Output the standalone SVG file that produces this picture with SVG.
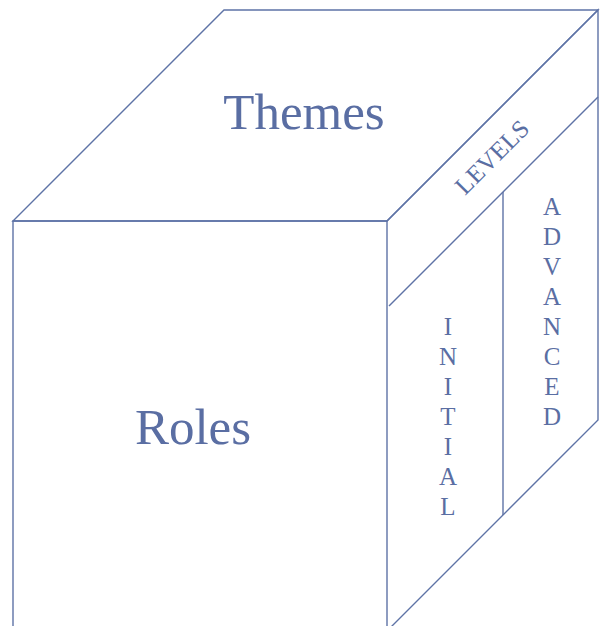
<svg xmlns="http://www.w3.org/2000/svg" width="602" height="626" viewBox="0 0 602 626">
<style>
.ln{fill:none;stroke:#5e73a6;stroke-width:1.4;stroke-linejoin:miter}
.big{font-family:"Liberation Serif","Times New Roman",serif;font-size:51px;fill:#5a6ea3;text-anchor:middle}
.sm{font-family:"Liberation Serif","Times New Roman",serif;font-size:25px;fill:#5a6ea3;text-anchor:middle}
</style>
<rect width="602" height="626" fill="#ffffff"/>
<g id="top-face">
<polygon class="ln" points="13,221 224,10 598,10 387,221"/>
<text class="big" x="304" y="129">Themes</text>
</g>
<g id="front-face">
<polyline class="ln" points="13,630 13,221 387,221 387,630"/>
<text class="big" x="193" y="444">Roles</text>
</g>
<g id="right-face">
<polyline class="ln" points="387,221 598,10 598,420 387,631"/>
</g>
<g id="levels">
<line class="ln" x1="598" y1="97" x2="389" y2="306"/>
<text class="sm" transform="translate(498,163) rotate(-45)">LEVELS</text>
</g>
<g id="initial">
<line class="ln" x1="503" y1="192" x2="503" y2="515"/>
<text class="sm" x="448"><tspan x="448" y="335">I</tspan><tspan x="448" y="365">N</tspan><tspan x="448" y="395">I</tspan><tspan x="448" y="425">T</tspan><tspan x="448" y="455">I</tspan><tspan x="448" y="485">A</tspan><tspan x="448" y="515">L</tspan></text>
</g>
<g id="advanced">
<text class="sm" x="552"><tspan x="552" y="215">A</tspan><tspan x="552" y="245">D</tspan><tspan x="552" y="275">V</tspan><tspan x="552" y="305">A</tspan><tspan x="552" y="335">N</tspan><tspan x="552" y="365">C</tspan><tspan x="552" y="395">E</tspan><tspan x="552" y="425">D</tspan></text>
</g>
</svg>
